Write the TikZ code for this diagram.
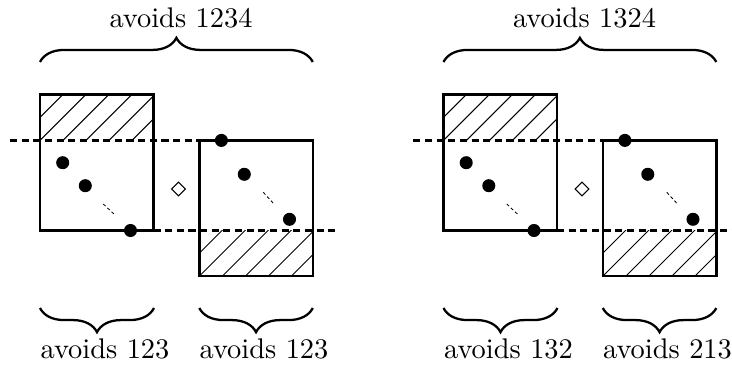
\documentclass[tikz,border=0pt]{standalone}
\usetikzlibrary{decorations.pathreplacing,shapes.geometric}
\begin{document}
\begin{tikzpicture}[x=0.352pt,y=-0.352pt,
  box/.style={draw,line width=0.9pt,inner sep=0pt,outer sep=0pt,minimum width=113.5*0.352pt,minimum height=135.8*0.352pt,anchor=north west},
  dot/.style={circle,fill=black,inner sep=0pt,minimum size=4.6pt},
  hatch/.style={line width=0.35pt},
  guide/.style={line width=0.85pt,dash pattern=on 2.5pt off 1.6pt},
  tiny/.style={line width=0.3pt,dash pattern=on 1.1pt off 0.9pt},
  diam/.style={diamond,draw,line width=0.4pt,inner sep=0pt,minimum size=5pt},
  brc/.style={decorate,decoration={brace,amplitude=8.5pt},line width=0.8pt},
  brcm/.style={decorate,decoration={brace,amplitude=8.5pt,mirror},line width=0.8pt},
  lbl/.style={anchor=base,inner sep=0pt}]
\useasboundingbox (0,0) rectangle (732,374);
\newcommand\Panel[7]{%
\begin{scope}[xshift=#1*0.352pt,name prefix=#7]
  % hatching
  \begin{scope}
    \clip (40,94.7) rectangle (154,140.3);
    \foreach \i in {-3,...,5} \draw[hatch] (40+\i*23,140.3) -- ++(80,-80);
  \end{scope}
  \begin{scope}
    \clip (199.3,230.7) rectangle (312.8,276.2);
    \foreach \i in {-3,...,5} \draw[hatch] (199.3+\i*23,276.2) -- ++(80,-80);
  \end{scope}
  \node[box] (b1) at (40,94.7) {};
  \node[box] (b2) at (199.3,140.4) {};
  \coordinate (l1) at (#6,140.4);
  \coordinate (l2) at (#5,230.5);
  \draw[guide] (l1) -- (b2.north west);
  \draw[guide] (b1.south east) -- (l2);
  \node[dot] (p1) at (62.7,162.7) {};
  \node[dot] (p2) at (85.3,185.7) {};
  \node[dot] (p3) at (130.5,230.5) {};
  \coordinate (t1) at (103.3,204);
  \coordinate (t2) at (115,215);
  \draw[tiny] (t1) -- (t2);
  \node[dot] (q1) at (221.4,140.4) {};
  \node[dot] (q2) at (244.3,174.3) {};
  \node[dot] (q3) at (289.5,219.3) {};
  \coordinate (s1) at (263.3,192.3);
  \coordinate (s2) at (274,204);
  \draw[tiny] (s1) -- (s2);
  \node[diam] (dm) at (178.5,189) {};
  % braces
  \coordinate (ta) at (40,62);
  \coordinate (tb) at (312.8,62);
  \draw[brc] (ta) -- (tb);
  \coordinate (ba) at (40,308);
  \coordinate (bb) at (154,308);
  \draw[brcm] (ba) -- (bb);
  \coordinate (bc) at (199.3,308);
  \coordinate (bd) at (312.8,308);
  \draw[brcm] (bc) -- (bd);
  \node[lbl] (tl) at (181,27.7) {#2};
  \node[lbl] (ll) at (105,358) {#3};
  \node[lbl] (rl) at (264,358) {#4};
\end{scope}}
\Panel{0}{avoids 1234}{avoids 123}{avoids 123}{338.3}{10}{L-}
\Panel{403.5}{avoids 1324}{avoids 132}{avoids 213}{328.5}{9.8}{R-}
\end{tikzpicture}
\end{document}
